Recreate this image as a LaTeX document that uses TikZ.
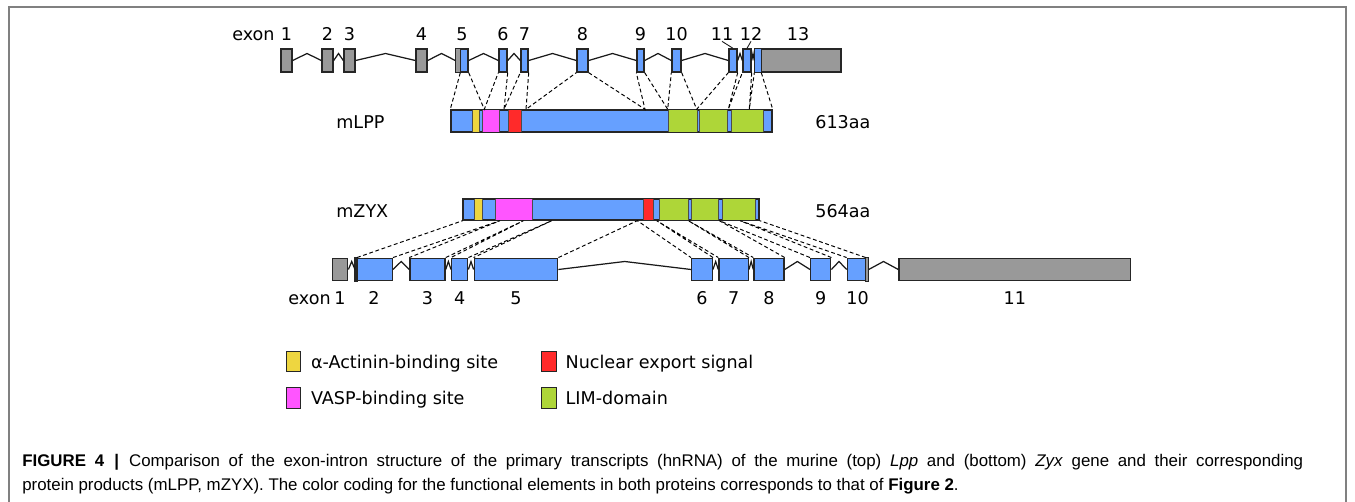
\documentclass[tikz,border=0pt]{standalone}
\usepackage{fontspec}
\setmainfont{DejaVu Sans}
\newfontfamily\capfont{Liberation Sans}
\usetikzlibrary{calc}
\definecolor{ExonBlue}{RGB}{102,160,255}
\definecolor{ExonGray}{RGB}{153,153,153}
\definecolor{SiteYellow}{RGB}{238,214,64}
\definecolor{SiteMagenta}{RGB}{255,85,255}
\definecolor{SiteRed}{RGB}{255,42,42}
\definecolor{LimGreen}{RGB}{174,214,56}
\definecolor{FrameGray}{RGB}{128,128,128}
\tikzset{
  exon/.style={draw=black!85, line width=0.8pt, fill=ExonBlue, inner sep=0pt, minimum height=0.46cm},
  gexon/.style={exon, fill=ExonGray},
  bexon/.style={exon, minimum height=0.45cm},
  bgexon/.style={bexon, fill=ExonGray},
  prot/.style={draw=black!85, line width=0.8pt, fill=ExonBlue, inner sep=0pt},
  protdom/.style={draw=black!70, line width=0.4pt},
  intron/.style={black!90, line width=0.7pt},
  map/.style={black, line width=0.55pt, dash pattern=on 2.2pt off 1.5pt},
  numlab/.style={anchor=base, inner sep=0pt, font=\fontsize{10}{12}\selectfont},
  txtlab/.style={anchor=base west, inner sep=0pt, font=\fontsize{10}{12}\selectfont},
  keybox/.style={draw=black!85, line width=0.7pt, inner sep=0pt, minimum width=0.29cm, minimum height=0.41cm},
  caplab/.style={anchor=base west, inner sep=0pt, font=\capfont\fontsize{9.6}{12}\selectfont},
}

\begin{document}
\begin{tikzpicture}[x=0.02cm, y=-0.02cm]
  \useasboundingbox (0,0) rectangle (1355,502);
  \draw[FrameGray, line width=0.9pt] (9,502) -- (9,7) -- (1346,7) -- (1346,502);

  % Lpp gene (top)
  \foreach \n/\a/\b in {1/281/292,2/322/333,3/344/355,4/416/427}
    \node[gexon, minimum width={(\b-\a)*0.02cm}] (t\n) at ({(\a+\b)/2},60.5) {};
  \foreach \n/\a/\b in {5/456/468,6/499/507,7/521/528,8/577/588,9/637/644,10/672/681,11/729/737,12/743/751}
    \node[exon, minimum width={(\b-\a)*0.02cm}] (t\n) at ({(\a+\b)/2},60.5) {};
  \node[gexon, minimum width={86*0.02cm}] (t13) at (798,60.5) {};
  \draw[exon, fill=ExonGray] (t5.south west) rectangle ($(t5.north west)+(5,0)$);
  \draw[exon] (t13.south west) rectangle ($(t13.north west)+(7,0)$);
  \foreach \i/\j in {1/2,2/3,3/4,4/5,5/6,6/7,7/8,8/9,9/10,10/11,11/12,12/13}
    \draw[intron] (t\i.east) -- ($(t\i.east)!0.5!(t\j.west)+(0,-7)$) -- (t\j.west);
  \node[txtlab] (texon) at (232,41) {exon};
  \foreach \n in {1,...,10,13}
    \node[numlab] (n\n) at (t\n |- 0,41) {\n};
  \node[numlab] (n11) at (722,41) {11};
  \node[numlab] (n12) at (751,41) {12};
  \draw[intron, line width=0.5pt] (n11.south) -- (t11.north);
  \draw[intron, line width=0.5pt] (n12.south) -- (t12.north);

  % mLPP protein
  \node[prot, minimum width={321*0.02cm}, minimum height=0.44cm] (lpp) at (611.5,121) {};
  \foreach \a/\b/\c in {472/479/SiteYellow,482.7/499.3/SiteMagenta,508.3/521/SiteRed,668/697/LimGreen,699.3/727.3/LimGreen,731.7/763.3/LimGreen}
    \draw[protdom, fill=\c] (\a,0 |- lpp.north) rectangle (\b,0 |- lpp.south);
  \draw[draw=black!85, line width=0.8pt] (lpp.south west) rectangle (lpp.north east);
  \node[txtlab] (lppname) at (336,128.3) {mLPP};
  \node[txtlab] (lpplen) at (815,128.3) {613aa};
  \foreach \k/\x in {1/484.3,2/504,3/526,4/645,5/667.7,6/696.7,7/728.3,8/749.3}
    \coordinate (l\k) at (\x,0 |- lpp.north);
  \draw[map] ($(t5.south west)+(5,0)$) -- (lpp.north west);
  \foreach \k/\i/\j in {1/5/6,2/6/7,3/7/8,4/8/9,5/9/10,6/10/11,7/11/12,8/12/13}
    \draw[map] (t\i.south east) -- (l\k) -- (t\j.south west);
  \draw[map] ($(t13.south west)+(7,0)$) -- (lpp.north east);

  % mZYX protein
  \node[prot, minimum width={295.7*0.02cm}, minimum height=0.42cm] (zyx) at (611.2,209.5) {};
  \foreach \a/\b/\c in {474.3/482.3/SiteYellow,495.7/532.3/SiteMagenta,643.3/653.3/SiteRed,659.3/688/LimGreen,691/718.7/LimGreen,722.3/755.7/LimGreen}
    \draw[protdom, fill=\c] (\a,0 |- zyx.north) rectangle (\b,0 |- zyx.south);
  \draw[draw=black!85, line width=0.8pt] (zyx.south west) rectangle (zyx.north east);
  \node[txtlab] (zyxname) at (336,217.5) {mZYX};
  \node[txtlab] (zyxlen) at (815,217.5) {564aa};

  % Zyx gene (bottom)
  \node[bgexon, minimum width={15.4*0.02cm}] (b1) at (340,269.5) {};
  \foreach \n/\a/\b in {2/355.7/392.3,3/410/445,4/451.7/467.7,5/474.3/557.7,6/691.7/712.3,7/719/748.3,8/754/784,9/810.7/830.7,10/847.3/868}
    \node[bexon, minimum width={(\b-\a)*0.02cm}] (b\n) at ({(\a+\b)/2},269.5) {};
  \node[bgexon, minimum width={231.7*0.02cm}] (b11) at (1014.85,269.5) {};
  \draw[exon, fill=ExonGray] (b2.south west) rectangle ($(b2.north west)+(2,0)$);
  \draw[exon, fill=ExonGray] (b10.south east) rectangle ($(b10.north east)+(-3,0)$);
  \foreach \i/\j in {1/2,2/3,3/4,4/5,5/6,6/7,7/8,8/9,9/10,10/11}
    \draw[intron] (b\i.east) -- ($(b\i.east)!0.5!(b\j.west)+(0,-8)$) -- (b\j.west);
  \node[txtlab, anchor=base east] (bexon) at (331,304.5) {exon};
  \foreach \n in {1,...,11}
    \node[numlab] (m\n) at (b\n |- 0,304.5) {\n};
  \foreach \k/\x in {1/500,2/523.5,3/551.7,4/637.3,5/656.7,6/688.3,7/719.3,8/740}
    \coordinate (z\k) at (\x,0 |- zyx.south);
  \draw[map] ($(b2.north west)+(2,0)$) -- (zyx.south west);
  \foreach \k/\i/\j in {1/2/3,2/3/4,3/4/5,4/5/6,5/6/7,6/7/8,7/8/9,8/9/10}
    \draw[map] (b\i.north east) -- (z\k) -- (b\j.north west);
  \draw[map] ($(b10.north east)+(-3,0)$) -- (zyx.south east);

  % legend
  \node[keybox, fill=SiteYellow] (kyel) at (293.4,361.4) {};
  \node[keybox, fill=SiteMagenta] (kmag) at (293.4,398) {};
  \node[keybox, fill=SiteRed] (kred) at (548.9,361.4) {};
  \node[keybox, fill=LimGreen] (kgrn) at (548.9,398) {};
  \node[txtlab] (tyel) at (310.7,368.3) {α-Actinin-binding site};
  \node[txtlab] (tmag) at (310.7,405) {VASP-binding site};
  \node[txtlab] (tred) at (565.3,368.3) {Nuclear export signal};
  \node[txtlab] (tgrn) at (565.3,405) {LIM-domain};

  % caption (first line justified)
  \node[caplab] (cap1) at (22,467) {\makebox[25.62cm][s]{\textbf{FIGURE 4}\hspace{0.6em}\textbf{|}\hspace{0.6em}Comparison of the exon-intron structure of the primary transcripts (hnRNA) of the murine (top) \textit{Lpp} and (bottom) \textit{Zyx} gene and their corresponding}};
  \node[caplab] (cap2) at (22,490.5) {protein products (mLPP, mZYX). The color coding for the functional elements in both proteins corresponds to that of \textbf{Figure 2}.};
\end{tikzpicture}
\end{document}
